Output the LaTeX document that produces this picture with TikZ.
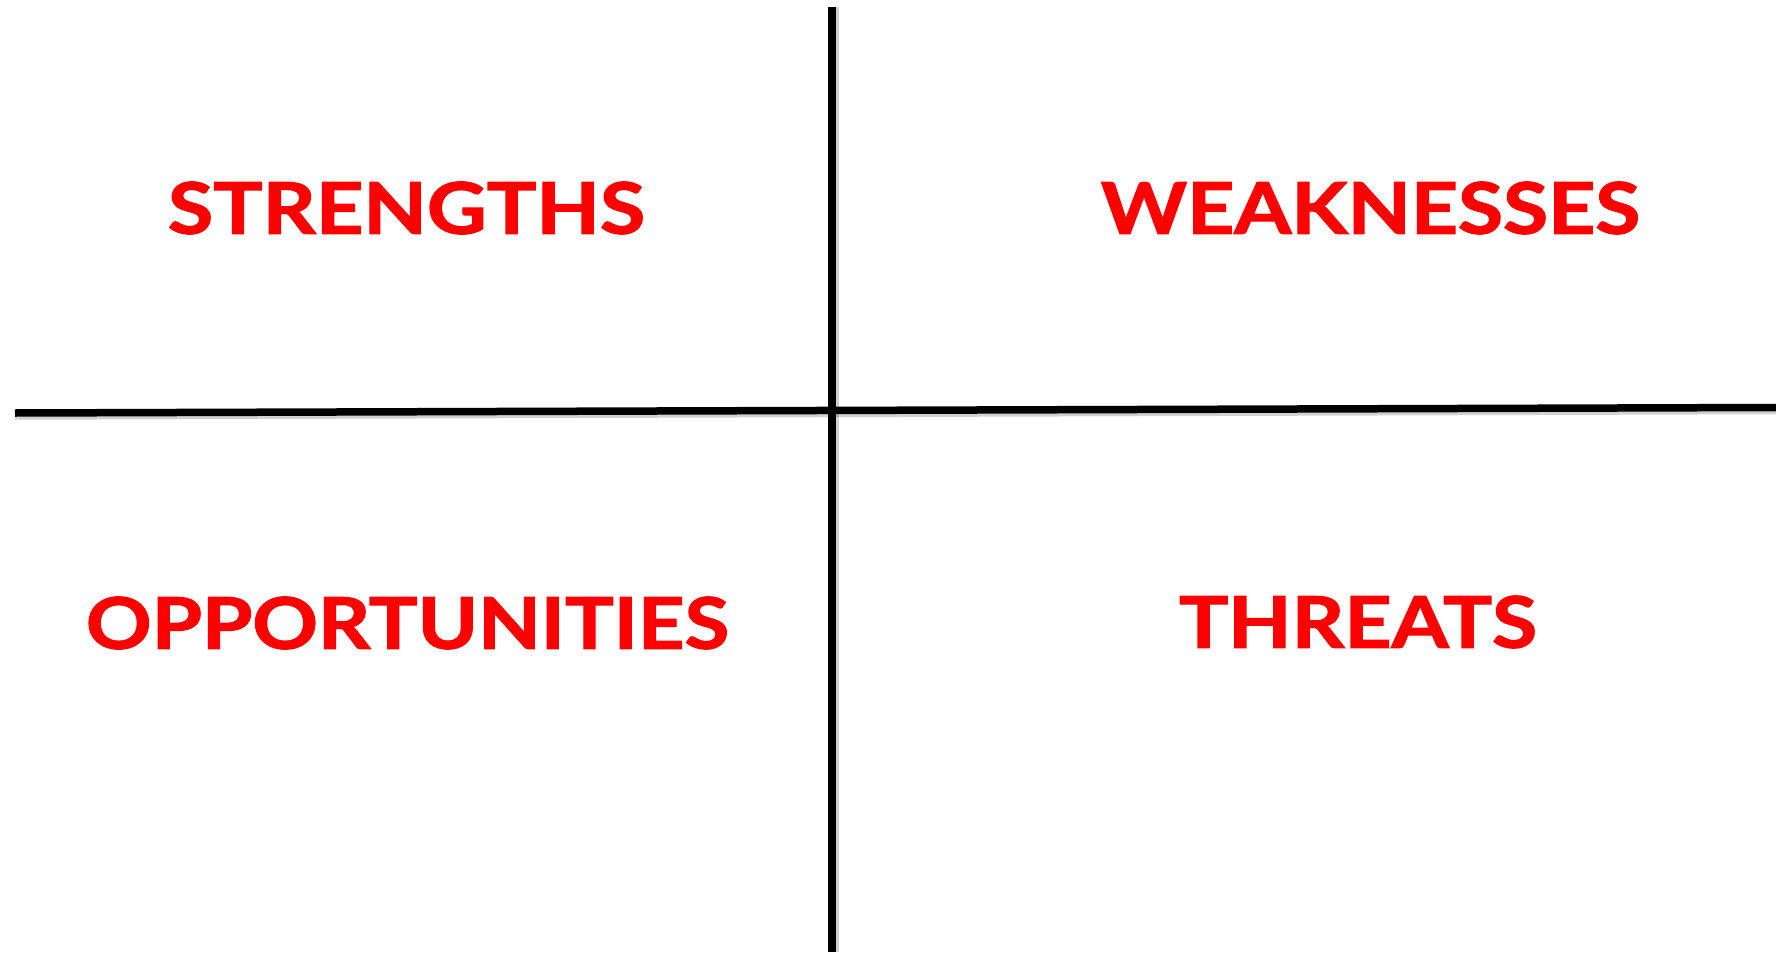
\documentclass[tikz,border=0pt]{standalone}
\usepackage{fontspec}
\setmainfont{Lato}[BoldFeatures={FakeBold=1.6}]
\usepackage{graphicx}
\definecolor{swotred}{RGB}{255,0,0}
\tikzset{
  axis/.style={line width=7.5pt, black},
  axshadow/.style={line width=7.5pt, black, opacity=0.18},
  lbl/.style={inner sep=0pt, text=swotred, font=\bfseries, anchor=center}
}
\begin{document}
\begin{tikzpicture}[x=1pt,y=-1pt]
\useasboundingbox (0,0) rectangle (1776,955);
% axis coordinates
\coordinate (L) at (15,413);
\coordinate (R) at (1776,407.5);
\coordinate (T) at (832,7);
\coordinate (B) at (832,952);
% shadows
\draw[axshadow] ([yshift=-3pt]L) -- ([yshift=-3pt]R);
\draw[axshadow] ([xshift=3pt]T) -- ([xshift=3pt]B);
% axes
\draw[axis] (L) -- (R);
\draw[axis] (T) -- (B);
% labels
\node[lbl] (s) at (406.5,208) {\resizebox{477pt}{52pt}{STRENGTHS}};
\node[lbl] (w) at (1370.5,208) {\resizebox{539pt}{52pt}{WEAKNESSES}};
\node[lbl] (o) at (407.5,623) {\resizebox{643pt}{52pt}{OPPORTUNITIES}};
\node[lbl] (t) at (1358,622) {\resizebox{358pt}{52pt}{THREATS}};
\end{tikzpicture}
\end{document}
